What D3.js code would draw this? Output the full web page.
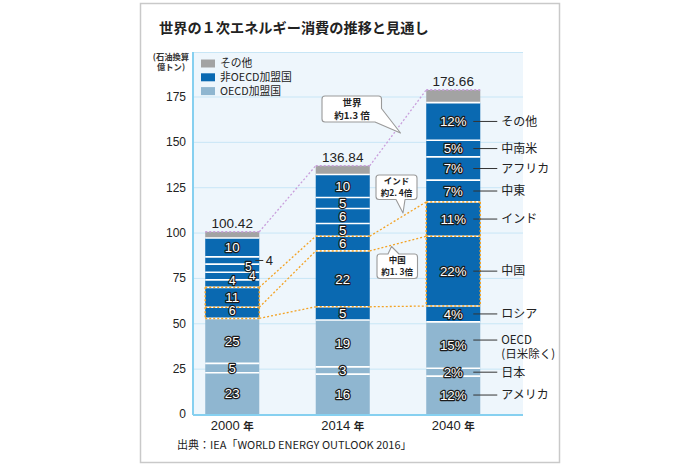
<!DOCTYPE html>
<html><head><meta charset="utf-8">
<script src="https://cdn.jsdelivr.net/npm/d3@7"></script>
<style>
html,body{margin:0;padding:0;background:#fff;}
svg{display:block;font-family:"Noto Sans CJK JP","Noto Sans",sans-serif;}
</style></head><body>
<svg id="chart" width="700" height="465"></svg>
<script>
// ---------- data ----------
const years = ["2000", "2014", "2040"];
const totals = [100.42, 136.84, 178.66];
const yTicks = [0, 25, 50, 75, 100, 125, 150, 175];

// values (億トン), stacked bottom -> top
const usa          = [22.7, 22.0, 20.9];
const japan        = [5.2, 4.0, 4.3];
const oecdOther    = [24.8, 25.8, 25.6];
const russia       = [6.1, 7.3, 8.7];
const china        = [11.0, 30.8, 38.5];
const india        = [4.1, 8.1, 18.9];
const middleEast   = [4.2, 7.0, 12.0];
const africa       = [4.5, 8.3, 12.8];
const latinAmerica = [4.0, 6.0, 9.2];
const otherNonOecd = [10.4, 12.7, 20.7];
const otherGray    = [3.4, 4.8, 7.0];

// shares shown as labels (%)
const usaPct          = [23, 16, 12];
const japanPct        = [5, 3, 2];
const oecdOtherPct    = [25, 19, 15];
const russiaPct       = [6, 5, 4];
const chinaPct        = [11, 22, 22];
const indiaPct        = [4, 6, 11];
const middleEastPct   = [4, 5, 7];
const africaPct       = [5, 6, 7];
const latinAmericaPct = [4, 5, 5];
const otherNonOecdPct = [10, 10, 12];

const regionNames = ["アメリカ", "日本", "OECD|(日米除く)", "ロシア", "中国", "インド", "中東", "アフリカ", "中南米", "その他", ""];
const legendNames = ["その他", "非OECD加盟国", "OECD加盟国"];

// ---------- setup ----------
const series = [
  {key:"usa", v:usa, pct:usaPct, grp:"oecd"},
  {key:"japan", v:japan, pct:japanPct, grp:"oecd"},
  {key:"oecdOther", v:oecdOther, pct:oecdOtherPct, grp:"oecd"},
  {key:"russia", v:russia, pct:russiaPct, grp:"non"},
  {key:"china", v:china, pct:chinaPct, grp:"non"},
  {key:"india", v:india, pct:indiaPct, grp:"non"},
  {key:"middleEast", v:middleEast, pct:middleEastPct, grp:"non"},
  {key:"africa", v:africa, pct:africaPct, grp:"non"},
  {key:"latinAmerica", v:latinAmerica, pct:latinAmericaPct, grp:"non"},
  {key:"otherNonOecd", v:otherNonOecd, pct:otherNonOecdPct, grp:"non"},
  {key:"otherGray", v:otherGray, pct:null, grp:"gray"}
];
series.forEach((s,i)=> s.name = regionNames[i]);
const keys = series.map(s=>s.key);
const table = years.map((y,i)=>{ const r={year:y}; series.forEach(s=> r[s.key]=s.v[i]); return r; });
const stacked = d3.stack().keys(keys)(table);

const colors = {oecd:"#8fb6d0", non:"#0a69b1", gray:"#a3a3a3"};

const svg = d3.select("#chart");
const plot = {l:193, r:523, t:52, b:414};

const x = d3.scaleBand().domain(years).range([177, 508.5]).paddingInner(0.511).paddingOuter(0.2555);
const y = d3.scaleLinear().domain([0,175]).range([414, 96.5]);
const bw = x.bandwidth();

// frame
svg.append("rect").attr("x",140.5).attr("y",3.5).attr("width",419).attr("height",459)
  .attr("fill","#fff").attr("stroke","#c9c9c9").attr("stroke-width",1.5);

// title
svg.append("text").attr("x",159).attr("y",32.5).attr("font-size",14.2).attr("font-weight","bold")
  .attr("fill","#222").text("世界の１次エネルギー消費の推移と見通し");

// plot background
svg.append("rect").attr("x",plot.l).attr("y",plot.t).attr("width",plot.r-plot.l).attr("height",plot.b-plot.t)
  .attr("fill","#eef6fc");
svg.append("line").attr("x1",plot.l).attr("x2",plot.r).attr("y1",plot.t+0.5).attr("y2",plot.t+0.5)
  .attr("stroke","#c8e6f6").attr("stroke-width",1);

// gridlines
const grid = svg.append("g").attr("transform",`translate(${plot.l},0)`)
  .call(d3.axisLeft(y).tickValues(yTicks.slice(1)).tickSize(-(plot.r-plot.l)).tickFormat(""));
grid.select(".domain").remove();
grid.selectAll("line").attr("stroke","#c8e6f6").attr("stroke-width",1);

// bars
const barG = svg.append("g");
stacked.forEach((layer,li)=>{
  const s = series[li];
  barG.selectAll(null).data(layer).enter().append("rect")
    .attr("x", d=>x(d.data.year)).attr("width", bw)
    .attr("y", d=>y(d[1])).attr("height", d=>y(d[0])-y(d[1]))
    .attr("fill", colors[s.grp]);
});
// white separators
stacked.slice(0,-1).forEach(layer=>{
  barG.selectAll(null).data(layer).enter().append("line")
    .attr("x1", d=>x(d.data.year)).attr("x2", d=>x(d.data.year)+bw)
    .attr("y1", d=>y(d[1])).attr("y2", d=>y(d[1]))
    .attr("stroke","#fff").attr("stroke-width",1.6);
});

// axes
const yAxis = svg.append("g").attr("transform",`translate(${plot.l},0)`)
  .call(d3.axisLeft(y).tickValues(yTicks).tickSize(0).tickPadding(7));
yAxis.select(".domain").remove();
yAxis.selectAll("text").attr("font-size",12).attr("fill","#222").attr("font-family","Liberation Sans, Arial, sans-serif");
svg.append("line").attr("x1",plot.l).attr("x2",plot.l).attr("y1",plot.t).attr("y2",plot.b+1)
  .attr("stroke","#86d0f0").attr("stroke-width",2);
svg.append("line").attr("x1",plot.l).attr("x2",plot.r).attr("y1",plot.b+1).attr("y2",plot.b+1)
  .attr("stroke","#86d0f0").attr("stroke-width",2);

// unit label
svg.append("text").attr("x",171).attr("y",59.5).attr("text-anchor","middle").attr("font-size",8.3)
  .attr("font-weight","bold").attr("fill","#333").text("(石油換算");
svg.append("text").attr("x",171).attr("y",70).attr("text-anchor","middle").attr("font-size",8.3)
  .attr("font-weight","bold").attr("fill","#333").text("億トン)");

// x labels
const xl = svg.append("g");
years.forEach(yr=>{
  const t = xl.append("text").attr("x", x(yr)+bw/2).attr("y",430).attr("text-anchor","middle")
    .attr("fill","#222");
  t.append("tspan").attr("font-size",13).attr("font-family","Liberation Sans, Arial, sans-serif").text(yr+" ");
  t.append("tspan").attr("font-size",10.5).attr("font-weight","bold").text("年");
});

// source
svg.append("text").attr("x",177).attr("y",448.5).attr("font-size",11).attr("fill","#222")
  .text("出典：IEA「WORLD ENERGY OUTLOOK 2016」");

// lavender dotted total lines
const lav = "#c99fdc";
years.forEach((yr,i)=>{
  svg.append("line").attr("x1",x(yr)).attr("x2",x(yr)+bw).attr("y1",y(totals[i])).attr("y2",y(totals[i]))
    .attr("stroke",lav).attr("stroke-width",1.6).attr("stroke-dasharray","2,2");
  if(i<years.length-1){
    svg.append("line").attr("x1",x(yr)+bw).attr("y1",y(totals[i]))
      .attr("x2",x(years[i+1])).attr("y2",y(totals[i+1]))
      .attr("stroke",lav).attr("stroke-width",1.3).attr("stroke-dasharray","2,2");
  }
  svg.append("text").attr("x",x(yr)+bw/2).attr("y",y(totals[i])-4).attr("text-anchor","middle")
    .attr("font-size",13.5).attr("fill","#222").attr("font-family","Liberation Sans, Arial, sans-serif")
    .text(d3.format(".2f")(totals[i]));
});

// orange guide lines (stack boundary indices per year)
const guideIdx = [[4,3,2],[5,4,3],[5,4,3]];
const orange = "#f3a325";
const boundary = (yi, li) => stacked[li][yi][1];
years.forEach((yr,i)=>{
  const vals = guideIdx[i].map(li=>boundary(i,li));
  vals.forEach(v=>{
    svg.append("line").attr("x1",x(yr)).attr("x2",x(yr)+bw).attr("y1",y(v)).attr("y2",y(v))
      .attr("stroke",orange).attr("stroke-width",1.5).attr("stroke-dasharray","2,2");
  });
  if(i!==1){
    [x(yr), x(yr)+bw].forEach(xx=>{
      svg.append("line").attr("x1",xx).attr("x2",xx).attr("y1",y(vals[0])).attr("y2",y(vals[2]))
        .attr("stroke",orange).attr("stroke-width",1.5).attr("stroke-dasharray","2,2");
    });
  }
  if(i<years.length-1){
    const nv = guideIdx[i+1].map(li=>boundary(i+1,li));
    vals.forEach((v,k)=>{
      svg.append("line").attr("x1",x(yr)+bw).attr("y1",y(v)).attr("x2",x(years[i+1])).attr("y2",y(nv[k]))
        .attr("stroke",orange).attr("stroke-width",1.3).attr("stroke-dasharray","2,2");
    });
  }
});

// segment labels
const special = { // year index | series index -> offsets
  "0|3": {dx:0, dy:-2, fs:12.5},
  "0|5": {dx:0, dy:-2.5, fs:12},
  "0|6": {dx:20, dy:0, fs:12},
  "0|7": {dx:16, dy:-2, fs:12},
  "0|8": {outside:true}
};
const lab = svg.append("g").attr("font-family","Liberation Sans, Arial, sans-serif");
series.forEach((s,si)=>{
  if(!s.pct) return;
  years.forEach((yr,yi)=>{
    const d = stacked[si][yi];
    const cy = y((d[0]+d[1])/2);
    const cx = x(yr)+bw/2;
    const txt = s.pct[yi] + (yi===2 ? "%" : "");
    const sp = special[yi+"|"+si];
    if(sp && sp.outside){
      lab.append("line").attr("x1",x(yr)+bw-4).attr("x2",x(yr)+bw+4).attr("y1",cy).attr("y2",cy)
        .attr("stroke","#333").attr("stroke-width",1);
      lab.append("text").attr("x",x(yr)+bw+10).attr("y",cy).attr("dy","0.36em").attr("text-anchor","middle")
        .attr("font-size",13).attr("fill","#222").text(txt);
      return;
    }
    lab.append("text").attr("x",cx+(sp?sp.dx:0)).attr("y",cy+(sp?sp.dy:0)).attr("dy","0.36em")
      .attr("text-anchor","middle").attr("font-size",sp?sp.fs:13.3)
      .attr("fill","#fff").attr("stroke","#1c1c1c").attr("stroke-width",2.4)
      .attr("paint-order","stroke").attr("stroke-linejoin","round").text(txt);
  });
});

// right-side region labels for 2040
const last = years.length-1;
const rx = x(years[last])+bw;
series.forEach((s,si)=>{
  if(!s.name) return;
  const d = stacked[si][last];
  let cy = y((d[0]+d[1])/2);
  const parts = s.name.split("|");
  if(parts.length>1) cy -= 5;
  svg.append("line").attr("x1",rx-7).attr("x2",rx+17).attr("y1",cy).attr("y2",cy)
    .attr("stroke","#333").attr("stroke-width",1);
  const t = svg.append("text").attr("x",rx+21).attr("y",cy).attr("font-size",parts.length>1?11.5:12).attr("fill","#222");
  parts.forEach((p,pi)=> t.append("tspan").attr("x",rx+21).attr("dy", pi===0 ? "0.36em" : "1.2em").text(p));
});

// legend
const leg = svg.append("g");
const legColors = [colors.gray, colors.non, colors.oecd];
legendNames.forEach((n,i)=>{
  const ly = 63.5 + i*13.8;
  leg.append("rect").attr("x",201).attr("y",ly-4).attr("width",14).attr("height",8).attr("fill",legColors[i]);
  leg.append("text").attr("x",220).attr("y",ly).attr("dy","0.36em").attr("font-size",10.8).attr("fill","#222").text(n);
});

// callout bubbles
function bubble(pathD){
  svg.append("path").attr("d",pathD).attr("fill","#fff").attr("stroke","#9a9a9a").attr("stroke-width",1.1)
    .attr("stroke-linejoin","round");
}
function bubbleText(cx, cy1, cy2, fs, t1, t2){
  svg.append("text").attr("x",cx).attr("y",cy1).attr("dy","0.36em").attr("text-anchor","middle")
    .attr("font-size",fs).attr("font-weight","bold").attr("fill","#222").text(t1);
  svg.append("text").attr("x",cx).attr("y",cy2).attr("dy","0.36em").attr("text-anchor","middle")
    .attr("font-size",fs).attr("font-weight","bold").attr("fill","#222").text(t2);
}
// 世界 約1.3倍 (tail from lower-right corner)
bubble("M325,96 L378.5,96 Q381.5,96 381.5,99 L381.5,108.5 L400.5,133 L375,122 L325,122 Q322,122 322,119 L322,99 Q322,96 325,96 Z");
bubbleText(352, 102.5, 115.5, 9.5, "世界", "約1.3 倍");
// インド 約2.4倍 (tail down)
bubble("M379,175 L414,175 Q417,175 417,178 L417,196.5 Q417,199.5 414,199.5 L405,199.5 L403,213 L396,199.5 L379,199.5 Q376,199.5 376,196.5 L376,178 Q376,175 379,175 Z");
bubbleText(396.5, 181, 193, 8.5, "インド", "約2. 4倍");
// 中国 約1.3倍 (tail up)
bubble("M380,254 L388,254 L391.5,246.5 L399,254 L414.5,254 Q417.5,254 417.5,257 L417.5,275.5 Q417.5,278.5 414.5,278.5 L380,278.5 Q377,278.5 377,275.5 L377,257 Q377,254 380,254 Z");
bubbleText(397.2, 260, 272, 8.5, "中国", "約1. 3倍");
</script>
</body></html>
